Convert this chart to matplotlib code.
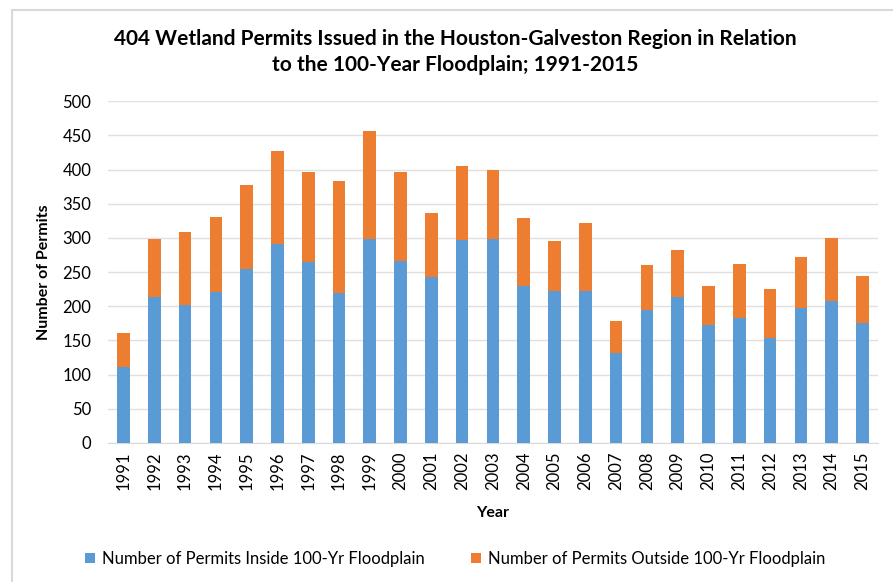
import matplotlib.pyplot as plt
from matplotlib.patches import Rectangle

years = [str(y) for y in range(1991, 2016)]
inside = [111, 213, 202, 221, 254, 291, 265, 220, 298, 266, 243, 297, 299,
          229, 223, 222, 132, 195, 213, 173, 183, 153, 197, 208, 176]
total = [161, 298, 309, 331, 378, 427, 396, 383, 456, 396, 336, 405, 399,
         329, 296, 322, 179, 261, 283, 230, 262, 225, 272, 300, 244]
outside = [t - i for t, i in zip(total, inside)]

plt.rcParams['font.family'] = ['Lato', 'DejaVu Sans']

fig = plt.figure(figsize=(8.93, 5.82), dpi=100)
ax = fig.add_axes([0.121, 0.239, 0.862, 0.587])

x = range(len(years))
ax.bar(x, inside, width=0.41, color='#5b9bd5', label='Number of Permits Inside 100-Yr Floodplain', zorder=3)
ax.bar(x, outside, width=0.41, bottom=inside, color='#ed7d31', label='Number of Permits Outside 100-Yr Floodplain', zorder=3)

ax.set_xlim(-0.5, len(years) - 0.5)
ax.set_ylim(0, 500)
ax.set_yticks(range(0, 501, 50))
ax.set_xticks(list(x))
ax.set_xticklabels(years, rotation=90, fontsize=12)
ax.tick_params(axis='y', labelsize=12, length=0, pad=12)
ax.tick_params(axis='x', length=0, pad=6)
ax.grid(axis='y', color='#e0e0e0', linewidth=1, zorder=0)
for s in ['top', 'right', 'left']:
    ax.spines[s].set_visible(False)
ax.spines['bottom'].set_color('#d9d9d9')

ax.set_xlabel('Year', fontsize=11.5, fontweight='bold', labelpad=12)
ax.set_ylabel('Number of Permits', fontsize=11.5, fontweight='bold', labelpad=8)

fig.text(0.51, 0.911, '404 Wetland Permits Issued in the Houston-Galveston Region in Relation\nto the 100-Year Floodplain; 1991-2015',
         ha='center', va='center', fontsize=15, fontweight='bold', linespacing=1.35)

fig.legend(loc='center', bbox_to_anchor=(0.51, 0.04), ncol=2, frameon=False,
           fontsize=12, handlelength=0.6, handleheight=0.6, columnspacing=2.8, handletextpad=0.4)

fig.patches.append(Rectangle((12 / 893, -0.1), 1.0, 1 - 10 / 582 + 0.1, transform=fig.transFigure,
                             fill=False, edgecolor='#d9d9d9', linewidth=1.5))

plt.savefig('out.png', dpi=100)
